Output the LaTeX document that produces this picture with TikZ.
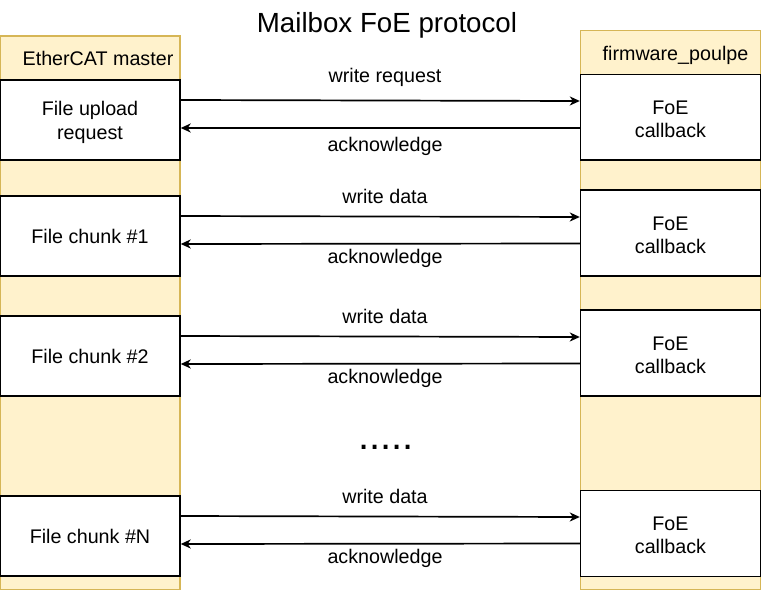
\documentclass[tikz,border=0pt]{standalone}
\usepackage{fontspec}
\setmainfont{Liberation Sans}
\usetikzlibrary{arrows.meta}
\definecolor{laneFill}{HTML}{FFF2CC}
\definecolor{laneDraw}{HTML}{D6B656}
\newcommand\lblfont{\fontsize{19.7}{23.4}\selectfont}
\begin{document}
\begin{tikzpicture}[x=1pt,y=-1pt,
  lane/.style={draw=laneDraw, fill=laneFill, line width=1.4pt},
  box/.style={draw=black, fill=white, line width=1.4pt, minimum width=180pt, inner sep=0pt, align=center, font=\lblfont},
  lbl/.style={anchor=base, inner sep=0pt, font=\lblfont},
  arr/.style={line width=1.7pt, -{Stealth[length=10pt,width=9pt,inset=3pt]}}]
\useasboundingbox (0,0) rectangle (771,591);
% lanes
\path[lane] (0,36) rectangle (180,589.5);
\path[lane] (580.5,30.5) rectangle (760.5,589.5);
\node[lbl] (hm) at (98,66) {EtherCAT master};
\node[lbl] (hf) at (675.5,60.5) {firmware\_poulpe};
% title
\node[anchor=base, inner sep=0pt, font=\fontsize{27.7}{33}\selectfont] (title) at (387,33) {Mailbox FoE protocol};
% left boxes
\node[box, minimum height=80pt] (L1) at (90,120) {\rule{0pt}{19pt}File upload\\request};
\node[box, minimum height=80pt] (L2) at (90,236) {File chunk \#1};
\node[box, minimum height=80pt] (L3) at (90,356) {File chunk \#2};
\node[box, minimum height=80pt] (L4) at (90,536) {File chunk \#N};
% right boxes
\node[box, minimum height=85.5pt] (R1) at (670.5,117.3) {\rule{0pt}{17.8pt}FoE\\callback};
\node[box, minimum height=86pt] (R2) at (670.5,233) {\rule{0pt}{17.8pt}FoE\\callback};
\node[box, minimum height=86pt] (R3) at (670.5,353) {\rule{0pt}{17.8pt}FoE\\callback};
\node[box, minimum height=86pt] (R4) at (670.5,533.3) {\rule{0pt}{17.8pt}FoE\\callback};
% arrows
\draw[arr] (L1.east |- 0,100) -- (R1.west |- 0,101);
\draw[arr] (R1.west |- 0,128) -- (L1.east |- 0,128);
\draw[arr] (L2.east |- 0,216) -- (R2.west |- 0,217);
\draw[arr] (R2.west |- 0,243.5) -- (L2.east |- 0,244);
\draw[arr] (L3.east |- 0,336) -- (R3.west |- 0,337);
\draw[arr] (R3.west |- 0,363.5) -- (L3.east |- 0,364);
\draw[arr] (L4.east |- 0,516) -- (R4.west |- 0,517);
\draw[arr] (R4.west |- 0,543.5) -- (L4.east |- 0,544);
% labels
\node[lbl] (w1) at (385,83) {write request};
\node[lbl] (a1) at (385,151) {acknowledge};
\node[lbl] (w2) at (385,203) {write data};
\node[lbl] (a2) at (385,263) {acknowledge};
\node[lbl] (w3) at (385,323) {write data};
\node[lbl] (a3) at (385,383) {acknowledge};
\node[lbl] (w4) at (385,503) {write data};
\node[lbl] (a4) at (385,563) {acknowledge};
% dots
\node[anchor=base, inner sep=0pt, font=\fontsize{40}{40}\selectfont] (dots) at (386,449) {.....};
\end{tikzpicture}
\end{document}
